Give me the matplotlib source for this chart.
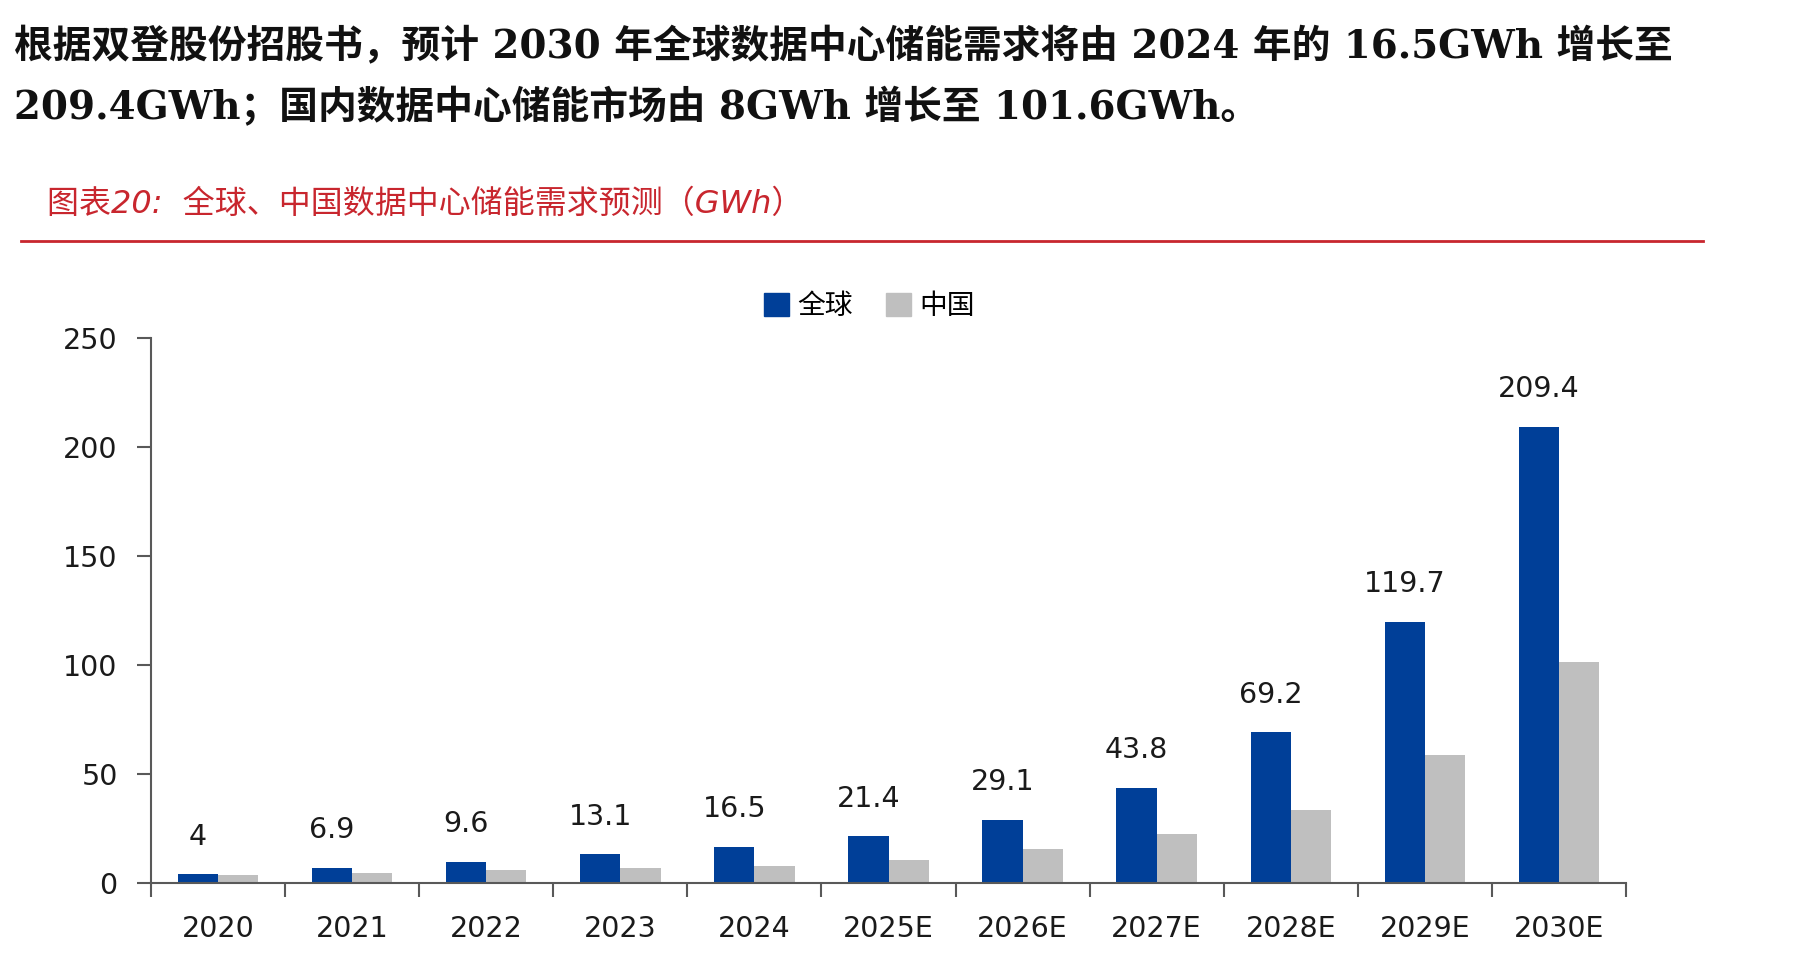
import matplotlib
matplotlib.use("Agg")
import matplotlib.pyplot as plt
from matplotlib.patches import Patch
import numpy as np

categories = ["2020", "2021", "2022", "2023", "2024", "2025E", "2026E", "2027E", "2028E", "2029E", "2030E"]
global_vals = [4, 6.9, 9.6, 13.1, 16.5, 21.4, 29.1, 43.8, 69.2, 119.7, 209.4]
china_vals = [3.5, 4.7, 5.8, 6.8, 8.0, 10.7, 15.5, 22.4, 33.6, 58.6, 101.6]
series_names = ["全球", "中国"]
yticks = [0, 50, 100, 150, 200, 250]

heading1 = "根据双登股份招股书，预计 2030 年全球数据中心储能需求将由 2024 年的 16.5GWh 增长至"
heading2 = "209.4GWh；国内数据中心储能市场由 8GWh 增长至 101.6GWh。"
subtitle = "图表20:  全球、中国数据中心储能需求预测（GWh）"

BLUE = "#003f98"
GREY = "#bfbfbf"
RED = "#c8262e"
AXC = "#595959"

fig = plt.figure(figsize=(18.2, 9.59), dpi=100)

serif_cjk = ["DejaVu Serif", "Noto Sans CJK SC"]
fig.text(14 / 1820, 1 - 47 / 959, heading1, family=serif_cjk, fontweight="bold",
         fontsize=27.9, va="center", ha="left", color="#111111")
fig.text(14 / 1820, 1 - 107 / 959, heading2, family=serif_cjk, fontweight="bold",
         fontsize=27.9, va="center", ha="left", color="#111111")
fig.text(47 / 1820, 1 - 204 / 959, subtitle, family=["DejaVu Sans", "Noto Sans CJK SC"],
         style="italic", fontsize=23, va="center", ha="left", color=RED)
fig.add_artist(plt.Line2D([21 / 1820, 1703 / 1820], [1 - 241 / 959, 1 - 241 / 959],
                          color=RED, lw=2, transform=fig.transFigure))

ax = fig.add_axes([151 / 1820, 1 - 883 / 959, (1626 - 151) / 1820, (883 - 338) / 959])
x = np.arange(len(categories))
w = 0.3
ax.bar(x - w / 2, global_vals, w, color=BLUE, zorder=2)
ax.bar(x + w / 2, china_vals, w, color=GREY, zorder=2)

for xi, v in zip(x, global_vals):
    ax.annotate(f"{v:g}", (xi - w / 2, v), xytext=(0, 17), textcoords="offset points",
                ha="center", va="bottom", fontsize=20.5, family="DejaVu Sans", color="#1a1a1a")

ax.set_xlim(-0.5, len(categories) - 0.5)
ax.set_ylim(0, 250)
ax.set_yticks(yticks)
ax.set_yticklabels([str(t) for t in yticks])
ax.set_xticks(np.arange(len(categories) + 1) - 0.5)
ax.set_xticklabels([])
ax.set_xticks(x, minor=True)
ax.set_xticklabels(categories, minor=True)
ax.tick_params(axis="x", which="major", length=10, width=1.5, color=AXC, direction="out")
ax.tick_params(axis="x", which="minor", length=0, pad=23, labelsize=20.5, labelcolor="#1a1a1a")
ax.tick_params(axis="y", length=10, width=1.5, color=AXC, pad=14, labelsize=20.5, labelcolor="#1a1a1a")

for s in ["top", "right"]:
    ax.spines[s].set_visible(False)
for s in ["left", "bottom"]:
    ax.spines[s].set_color(AXC)
    ax.spines[s].set_linewidth(1.5)

handles = [Patch(facecolor=BLUE, edgecolor=BLUE), Patch(facecolor=GREY, edgecolor=GREY)]
fig.legend(handles, series_names, loc="center", bbox_to_anchor=(869 / 1820, 1 - 306 / 959),
           ncol=2, frameon=False, prop={"family": "Noto Sans CJK SC", "size": 20},
           handlelength=0.9, handleheight=0.9, handletextpad=0.3, columnspacing=1.2)

fig.savefig("out.png", dpi=100)
